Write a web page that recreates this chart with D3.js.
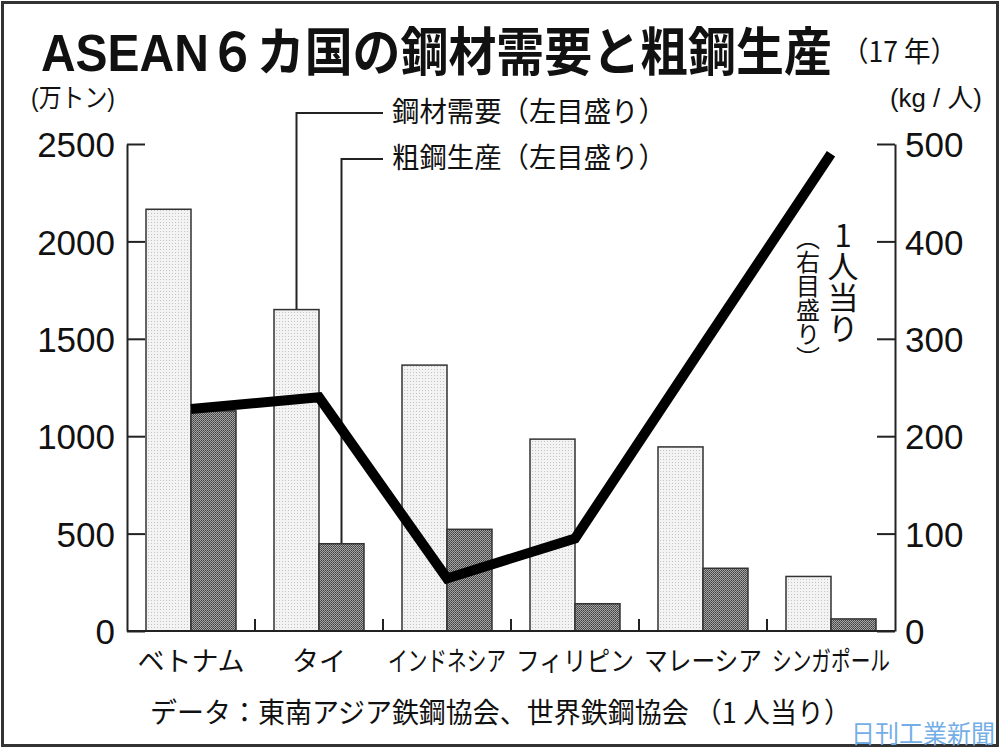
<!DOCTYPE html>
<html>
<head>
<meta charset="utf-8">
<script src="https://cdn.jsdelivr.net/npm/d3@7"></script>
<style>
  body { margin: 0; background: #fff; }
  svg { display: block; }
  text { font-family: "Noto Sans CJK JP", sans-serif; fill: #111; }
  .num, .lat { font-family: "Liberation Sans", "Noto Sans CJK JP", sans-serif; }
  .vert { writing-mode: vertical-rl; text-orientation: upright; }
</style>
</head>
<body>
<svg id="chart"></svg>
<script>
// chart data
var categories = ["ベトナム", "タイ", "インドネシア", "フィリピン", "マレーシア", "シンガポール"];
var steelDemand = [2165, 1650, 1365, 985, 945, 280];   // 鋼材需要, 万トン
var crudeSteel = [1130, 448, 522, 140, 322, 62];       // 粗鋼生産, 万トン
var perCapita = [228, 240, 54, 95, 293, 490];          // 1人当り, kg/人
var leftTicks = [0, 500, 1000, 1500, 2000, 2500];
var rightTicks = [0, 100, 200, 300, 400, 500];

var w = 1000;
var h = 750;

var svg = d3.select("#chart").attr("width", w).attr("height", h);

// squeeze a text horizontally so it takes the given width (the original type is condensed)
function fitText(sel, x, y, width) {
    var len = sel.node().getComputedTextLength();
    sel.attr("transform", "translate(" + x + "," + y + ") scale(" + (width / len) + ",1)");
    return sel;
}

function addText(str, x, y, size, width, cls) {
    var t = svg.append("text").attr("font-size", size).text(str);
    if (cls) t.attr("class", cls);
    return fitText(t, x, y, width);
}

// dotted fills for the two bar series
var defs = svg.append("defs");
var pl = defs.append("pattern").attr("id", "light").attr("width", 3).attr("height", 3)
    .attr("patternUnits", "userSpaceOnUse");
pl.append("rect").attr("width", 3).attr("height", 3).attr("fill", "#f3f3f3");
pl.append("rect").attr("width", 1).attr("height", 1).attr("fill", "#c4c4c4");
var pd = defs.append("pattern").attr("id", "dark").attr("width", 2).attr("height", 2)
    .attr("patternUnits", "userSpaceOnUse");
pd.append("rect").attr("width", 2).attr("height", 2).attr("fill", "#a6a6a6");
pd.append("rect").attr("width", 1).attr("height", 1).attr("fill", "#3e3e3e");
pd.append("rect").attr("x", 1).attr("y", 1).attr("width", 1).attr("height", 1).attr("fill", "#555");

// frame
svg.append("rect").attr("x", 2.5).attr("y", 2.5).attr("width", 995).attr("height", 743)
    .attr("fill", "#fff").attr("stroke", "#333").attr("stroke-width", 3);

// scales
var x = d3.scaleBand().domain(categories).range([127, 895]);
var xs = d3.scaleBand().domain(["demand", "crude"]).range([19, 109]);
var yL = d3.scaleLinear().domain([0, 2500]).range([631, 144]);
var yR = d3.scaleLinear().domain([0, 500]).range([631, 144]);

// title
var title = svg.append("text").attr("class", "lat").attr("font-size", 52)
    .attr("font-weight", "bold").text("ASEAN６カ国の鋼材需要と粗鋼生産");
fitText(title, 41, 71, 791);
addText("（17 年）", 842, 62, 28, 115);

// unit labels
addText("(万トン)", 31, 107, 26, 84, "lat");
addText("(kg / 人)", 890, 107, 26, 92, "lat");

// left axis
var gl = svg.append("g").attr("transform", "translate(127,0)")
    .call(d3.axisLeft(yL).tickValues(leftTicks).tickFormat(d3.format("d"))
        .tickSize(-18).tickSizeOuter(0).tickPadding(12));
// right axis
var gr = svg.append("g").attr("transform", "translate(895,0)")
    .call(d3.axisRight(yR).tickValues(rightTicks).tickFormat(d3.format("d"))
        .tickSize(-18).tickSizeOuter(0).tickPadding(10));

[gl, gr].forEach(function (g) {
    g.select(".domain").attr("stroke", "#222").attr("stroke-width", 2);
    g.selectAll(".tick line").attr("stroke", "#222").attr("stroke-width", 2);
    g.selectAll(".tick text").attr("class", "num").attr("font-size", 35)
        .attr("fill", "#111").attr("dy", "0.36em");
});

// legend leaders (point at Thailand's bars)
var thaiDemandX = x(categories[1]) + xs("demand") + xs.bandwidth() / 2;
var thaiCrudeX = x(categories[1]) + xs("crude") + xs.bandwidth() / 2;
svg.append("path")
    .attr("d", "M383,113H" + thaiDemandX + "V" + yL(steelDemand[1]))
    .attr("fill", "none").attr("stroke", "#222").attr("stroke-width", 2);
svg.append("path")
    .attr("d", "M383,159H" + thaiCrudeX + "V" + yL(crudeSteel[1]))
    .attr("fill", "none").attr("stroke", "#222").attr("stroke-width", 2);
addText("鋼材需要（左目盛り）", 392, 122, 28, 274);
addText("粗鋼生産（左目盛り）", 392, 168, 28, 274);

// bars
var groups = svg.append("g").selectAll("g").data(categories).enter()
    .append("g")
    .attr("transform", function (d) { return "translate(" + x(d) + ",0)"; });

groups.append("rect")
    .attr("x", xs("demand"))
    .attr("y", function (d, i) { return yL(steelDemand[i]); })
    .attr("width", xs.bandwidth())
    .attr("height", function (d, i) { return yL(0) - yL(steelDemand[i]); })
    .attr("fill", "url(#light)").attr("stroke", "#333").attr("stroke-width", 1.5);

groups.append("rect")
    .attr("x", xs("crude"))
    .attr("y", function (d, i) { return yL(crudeSteel[i]); })
    .attr("width", xs.bandwidth())
    .attr("height", function (d, i) { return yL(0) - yL(crudeSteel[i]); })
    .attr("fill", "url(#dark)").attr("stroke", "#333").attr("stroke-width", 1.5);

// bottom axis: baseline and separators between countries
svg.append("line").attr("x1", 127).attr("x2", 895).attr("y1", 631).attr("y2", 631)
    .attr("stroke", "#222").attr("stroke-width", 2);
svg.append("g").selectAll("line").data(categories.slice(1)).enter()
    .append("line")
    .attr("x1", function (d) { return x(d); })
    .attr("x2", function (d) { return x(d); })
    .attr("y1", 631).attr("y2", 619)
    .attr("stroke", "#222").attr("stroke-width", 2);

svg.append("g").selectAll("text").data(categories).enter()
    .append("text")
    .attr("font-size", 27)
    .attr("text-anchor", "middle")
    .text(function (d) { return d; })
    .each(function (d) {
        var len = this.getComputedTextLength();
        fitText(d3.select(this), x(d) + x.bandwidth() / 2, 671, Math.min(len, 118));
    });

// per-capita line (right scale)
var line = d3.line()
    .x(function (d, i) { return x(categories[i]) + x.bandwidth() / 2; })
    .y(function (d) { return yR(d); });
svg.append("path").datum(perCapita)
    .attr("d", line)
    .attr("fill", "none").attr("stroke", "#000").attr("stroke-width", 10)
    .attr("stroke-linejoin", "miter").attr("stroke-linecap", "butt");

// vertical label for the line
svg.append("text").attr("class", "vert")
    .attr("x", 843).attr("y", 220).attr("font-size", 31)
    .text("1人当り");
svg.append("text").attr("class", "vert")
    .attr("x", 808).attr("y", 226).attr("font-size", 24)
    .text("（右目盛り）");

// source note
addText("データ：東南アジア鉄鋼協会、世界鉄鋼協会 （1 人当り）", 150, 723, 28, 701);

// watermark
addText("日刊工業新聞", 851, 743, 25, 144).style("fill", "#74aee6");
</script>
</body>
</html>
